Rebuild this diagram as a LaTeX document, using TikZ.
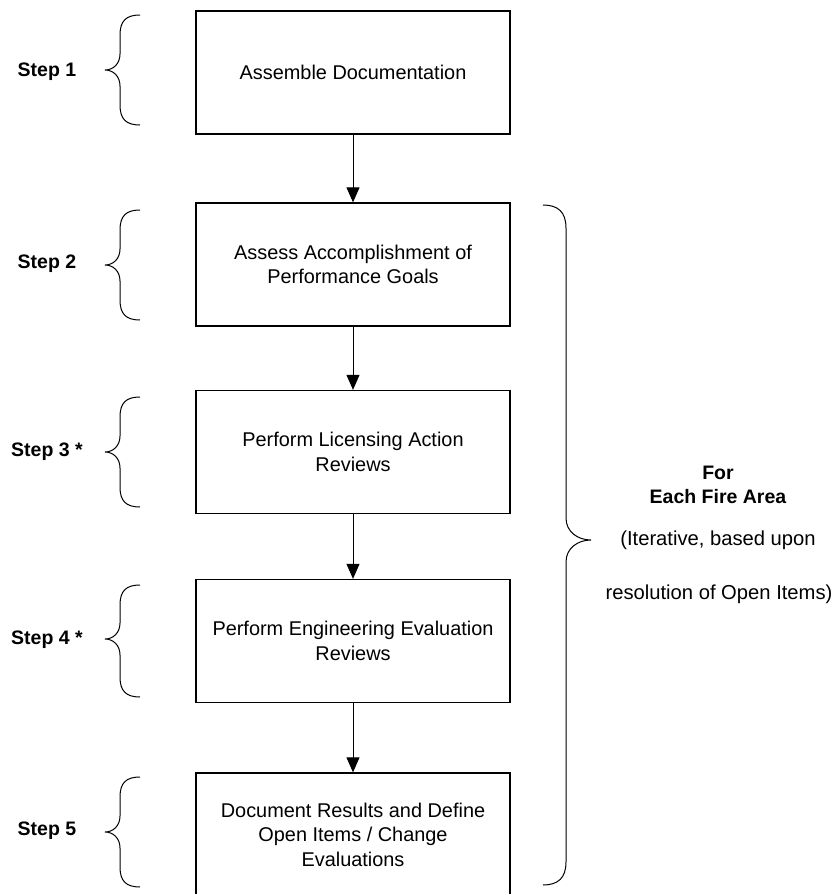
\documentclass[tikz,border=0pt]{standalone}
\usepackage{fontspec}
\setmainfont{Liberation Sans}
\usetikzlibrary{arrows.meta}

\begin{document}
\begin{tikzpicture}[x=1pt, y=-1pt,
        stepbox/.style={draw, line width=1.3pt, minimum width=314pt, minimum height=123pt,
            align=center, inner sep=0pt, font=\fontsize{19.9}{24.5}\selectfont},
        steplabel/.style={inner sep=0pt, font=\bfseries\fontsize{19.5}{24}\selectfont},
        arealabel/.style={inner sep=0pt, font=\fontsize{20.2}{24}\selectfont},
        arr/.style={line width=1pt, -{Triangle[width=13pt,length=15pt]}},
        brace/.style={line width=1pt}]

        % page frame
        \useasboundingbox (0,0) rectangle (837,894);

        % parameters
        \def\cx{353}                 % centre of the boxes
        \def\lx{47}                  % centre of the step labels

        % --- Boxes, top to bottom ---
        \node[stepbox] (b1) at (\cx,72.5) {Assemble Documentation};
        \node[stepbox] (b2) at (\cx,264.5) {Assess Accomplishment of\\Performance Goals};
        \node[stepbox] (b3) at (\cx,452) {Perform Licensing Action\\Reviews};
        \node[stepbox] (b4) at (\cx,641) {Perform Engineering Evaluation\\Reviews};
        \node[stepbox] (b5) at (\cx,834.5) {Document Results and Define\\Open Items / Change\\Evaluations};

        \draw[arr] (b1) -- (b2);
        \draw[arr] (b2) -- (b3);
        \draw[arr] (b3) -- (b4);
        \draw[arr] (b4) -- (b5);

        % --- Step labels ---
        \node[steplabel] (s1) at (\lx,72) {Step 1};
        \node[steplabel] (s2) at (\lx,264) {Step 2};
        \node[steplabel] (s3) at (\lx,452) {Step 3 *};
        \node[steplabel] (s4) at (\lx,640) {Step 4 *};
        \node[steplabel] (s5) at (\lx,831) {Step 5};

        % --- Left braces: top / tip / bottom ---
        \foreach \ya/\ym/\yb in {15/70/125, 210/265/320, 397/452/507, 585/639/697, 777/832/887} {%
            \draw[brace] (140,\ya) .. controls (126,\ya) and (120,\ya+6) .. (120,\ya+20)
                -- (120,\ym-16) .. controls (120,\ym-6) and (113,\ym) .. (105,\ym)
                .. controls (113,\ym) and (120,\ym+6) .. (120,\ym+16)
                -- (120,\yb-20) .. controls (120,\yb-6) and (126,\yb) .. (140,\yb);%
        }

        % --- Right brace over steps 2 to 5 ---
        \draw[brace] (543,205) .. controls (558,205) and (566,212) .. (566,228)
            -- (566,518) .. controls (566,532) and (578,540) .. (591,540)
            .. controls (578,540) and (566,548) .. (566,562)
            -- (566,862) .. controls (566,878) and (558,885) .. (543,885);

        \node[steplabel] (a1) at (718,473) {For};
        \node[steplabel] (a2) at (718,497) {Each Fire Area};
        \node[arealabel] (a3) at (718,540) {(Iterative, based upon};
        \node[arealabel] (a4) at (719,594) {resolution of Open Items)};

    \end{tikzpicture}
\end{document}
